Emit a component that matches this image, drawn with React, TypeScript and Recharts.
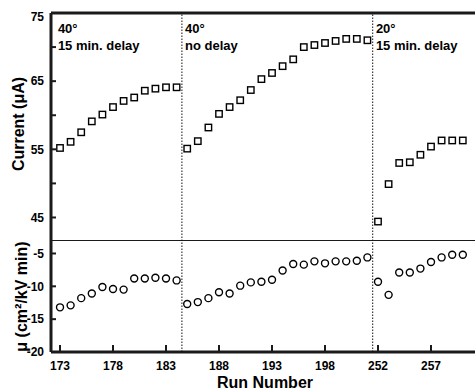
import React from 'react';
import { ScatterChart, Scatter, XAxis, YAxis, ReferenceLine, ReferenceDot, Label } from 'recharts';

const runNumbers = [
  173, 174, 175, 176, 177, 178, 179, 180, 181, 182, 183, 184,
  185, 186, 187, 188, 189, 190, 191, 192, 193, 194, 195, 196, 197, 198, 199, 200, 201, 202,
  252, 253, 254, 255, 256, 257, 258, 259, 260,
];

const currentUA = [
  55.2, 56.1, 57.5, 59.1, 60.1, 61.2, 62.1, 62.6, 63.6, 63.9, 64.1, 64.1,
  55.1, 56.2, 58.2, 60.2, 61.2, 62.2, 63.7, 65.3, 66.2, 67.2, 68.2, 70.0, 70.3, 70.6, 70.9, 71.2, 71.2, 71.0,
  44.4, 49.9, 53.0, 53.1, 54.2, 55.4, 56.3, 56.3, 56.3,
];

const mobility = [
  -13.2, -12.9, -11.8, -11.1, -10.1, -10.4, -10.5, -8.8, -8.8, -8.7, -8.8, -9.1,
  -12.7, -12.4, -11.8, -10.9, -11.1, -9.9, -9.4, -9.3, -9.0, -7.6, -6.6, -6.7, -6.2, -6.5, -6.2, -6.2, -6.1, -5.6,
  -9.3, -11.3, -7.9, -7.9, -7.3, -6.3, -5.6, -5.2, -5.2,
];

const xTickRuns = [173, 178, 183, 188, 193, 198, 252, 257];
const currentTicks = [45, 50, 55, 60, 65, 70, 75];
const currentTickLabels = [45, 55, 65, 75];
const mobilityTicks = [-20, -15, -10, -5];
const dividerAfterRuns = [184, 202];
const notes = [
  { run: 173, lines: ['40°', '15 min. delay'] },
  { run: 185, lines: ['40°', 'no delay'] },
  { run: 252, lines: ['20°', '15 min. delay'] },
];

const currentData = runNumbers.map((run, i) => ({ idx: i, run, value: currentUA[i] }));
const mobilityData = runNumbers.map((run, i) => ({ idx: i, run, value: mobility[i] }));
const xTicks = xTickRuns.map((r) => runNumbers.indexOf(r));
const dividers = dividerAfterRuns.map((r) => runNumbers.indexOf(r) + 0.5);

const FONT = '"Liberation Sans", Arial, Helvetica, sans-serif';
const X_DOMAIN: [number, number] = [-0.85, 39.15];
const TOP_DOMAIN: [number, number] = [41.55, 75];
const BOT_DOMAIN: [number, number] = [-20, -3.1];

const FRAME = 3;
const INK = '#1a1a1a';

const SquareShape = (p: any) => (
  <rect x={p.cx - 3.2} y={p.cy - 3.2} width={6.4} height={6.4} fill="#fff" stroke="#000" strokeWidth={1.4} />
);
const CircleShape = (p: any) => (
  <circle cx={p.cx} cy={p.cy} r={3.5} fill="#fff" stroke="#000" strokeWidth={1.4} />
);

const makeYTick = (labels: number[] | null) => (p: any) => {
  const v = p.payload?.value;
  const show = labels ? labels.includes(v) : true;
  const axisX = p.x + 7;
  const dy = v === 75 ? 4 : 0;
  return (
    <g>
      <line x1={axisX} x2={axisX + 5} y1={p.y} y2={p.y} stroke={INK} strokeWidth={2} />
      {show && (
        <text
          x={p.x}
          y={p.y + dy}
          dy="0.355em"
          textAnchor="end"
          fontFamily={FONT}
          fontWeight="bold"
          fontSize={12}
          fill="#000"
        >
          {String(v)}
        </text>
      )}
    </g>
  );
};

const XTick = (p: any) => {
  const i = p.payload?.value;
  return (
    <g>
      <line x1={p.x} x2={p.x} y1={p.y} y2={p.y - 7} stroke={INK} strokeWidth={2} />
      <text x={p.x} y={p.y + 18} textAnchor="middle" fontFamily={FONT} fontWeight="bold" fontSize={12} fill="#000">
        {String(runNumbers[i])}
      </text>
    </g>
  );
};

const noteContent = (lines: string[]) => (props: any) => {
  const vb = props.viewBox || {};
  const x = vb.x ?? 0;
  const y = vb.y ?? 0;
  return (
    <text x={x} y={y} fontFamily={FONT} fontWeight="bold" fontSize={13} fill="#000">
      {lines.map((l, i) => (
        <tspan key={i} x={x} dy={i === 0 ? 0 : 17}>
          {l}
        </tspan>
      ))}
    </text>
  );
};

const yTitle = (text: string, dx: number, dy: number) => (props: any) => {
  const vb = props.viewBox || {};
  const cx = (vb.x ?? 0) + dx;
  const cy = (vb.y ?? 0) + (vb.height ?? 0) / 2 + dy;
  return (
    <text
      x={cx}
      y={cy}
      transform={`rotate(-90 ${cx} ${cy})`}
      textAnchor="middle"
      fontFamily={FONT}
      fontWeight="bold"
      fontSize={16}
      fill="#000"
    >
      {text}
    </text>
  );
};

const xTitle = (props: any) => {
  const vb = props.viewBox || {};
  const cx = (vb.x ?? 0) + (vb.width ?? 0) / 2 + 2;
  const cy = (vb.y ?? 0) + 36;
  return (
    <text x={cx} y={cy} textAnchor="middle" fontFamily={FONT} fontWeight="bold" fontSize={16} fill="#000">
      Run Number
    </text>
  );
};

export default function App() {
  return (
    <div style={{ position: 'absolute', left: 0, top: 0, width: 475, height: 392, background: '#fff' }}>
      <ScatterChart width={475} height={241} margin={{ top: 13, right: 0, bottom: 0, left: 0 }}>
        <XAxis type="number" dataKey="idx" domain={X_DOMAIN} allowDataOverflow hide />
        <YAxis
          type="number"
          dataKey="value"
          width={51}
          domain={TOP_DOMAIN}
          allowDataOverflow
          ticks={currentTicks}
          interval={0}
          tickSize={0}
          tickMargin={7}
          tick={makeYTick(currentTickLabels)}
          axisLine={false}
          tickLine={false}
        >
          <Label content={yTitle('Current (μA)', 24, -3)} />
        </YAxis>
        <ReferenceLine y={TOP_DOMAIN[1]} stroke={INK} strokeWidth={FRAME} ifOverflow="visible" />
        <ReferenceLine y={TOP_DOMAIN[0]} stroke={INK} strokeWidth={2} ifOverflow="visible" />
        <ReferenceLine x={X_DOMAIN[0]} stroke={INK} strokeWidth={FRAME} ifOverflow="visible" />
        {dividers.map((d) => (
          <ReferenceLine key={d} x={d} stroke="#111" strokeWidth={1} strokeDasharray="1.5 1.5" />
        ))}
        {notes.map((n) => (
          <ReferenceDot
            key={n.run}
            x={runNumbers.indexOf(n.run) - 0.2}
            y={72.1}
            r={0}
            fill="none"
            stroke="none"
            label={{ content: noteContent(n.lines) } as any}
          />
        ))}
        <Scatter data={currentData} dataKey="value" shape={SquareShape} isAnimationActive={false} />
      </ScatterChart>
      <ScatterChart width={475} height={151} margin={{ top: 0, right: 0, bottom: 0, left: 0 }}>
        <XAxis
          type="number"
          dataKey="idx"
          domain={X_DOMAIN}
          allowDataOverflow
          height={40}
          ticks={xTicks}
          interval={0}
          tickSize={0}
          tickMargin={0}
          tick={XTick}
          axisLine={false}
          tickLine={false}
        >
          <Label content={xTitle} />
        </XAxis>
        <YAxis
          type="number"
          dataKey="value"
          width={51}
          domain={BOT_DOMAIN}
          allowDataOverflow
          ticks={mobilityTicks}
          interval={0}
          tickSize={0}
          tickMargin={7}
          tick={makeYTick(null)}
          axisLine={false}
          tickLine={false}
        >
          <Label content={yTitle('μ (cm²/kV min)', 27, 0)} />
        </YAxis>
        <ReferenceLine y={BOT_DOMAIN[0]} stroke={INK} strokeWidth={FRAME} ifOverflow="visible" />
        <ReferenceLine x={X_DOMAIN[0]} stroke={INK} strokeWidth={FRAME} ifOverflow="visible" />
        {dividers.map((d) => (
          <ReferenceLine key={d} x={d} stroke="#111" strokeWidth={1} strokeDasharray="1.5 1.5" />
        ))}
        <Scatter data={mobilityData} dataKey="value" shape={CircleShape} isAnimationActive={false} />
      </ScatterChart>
    </div>
  );
}
